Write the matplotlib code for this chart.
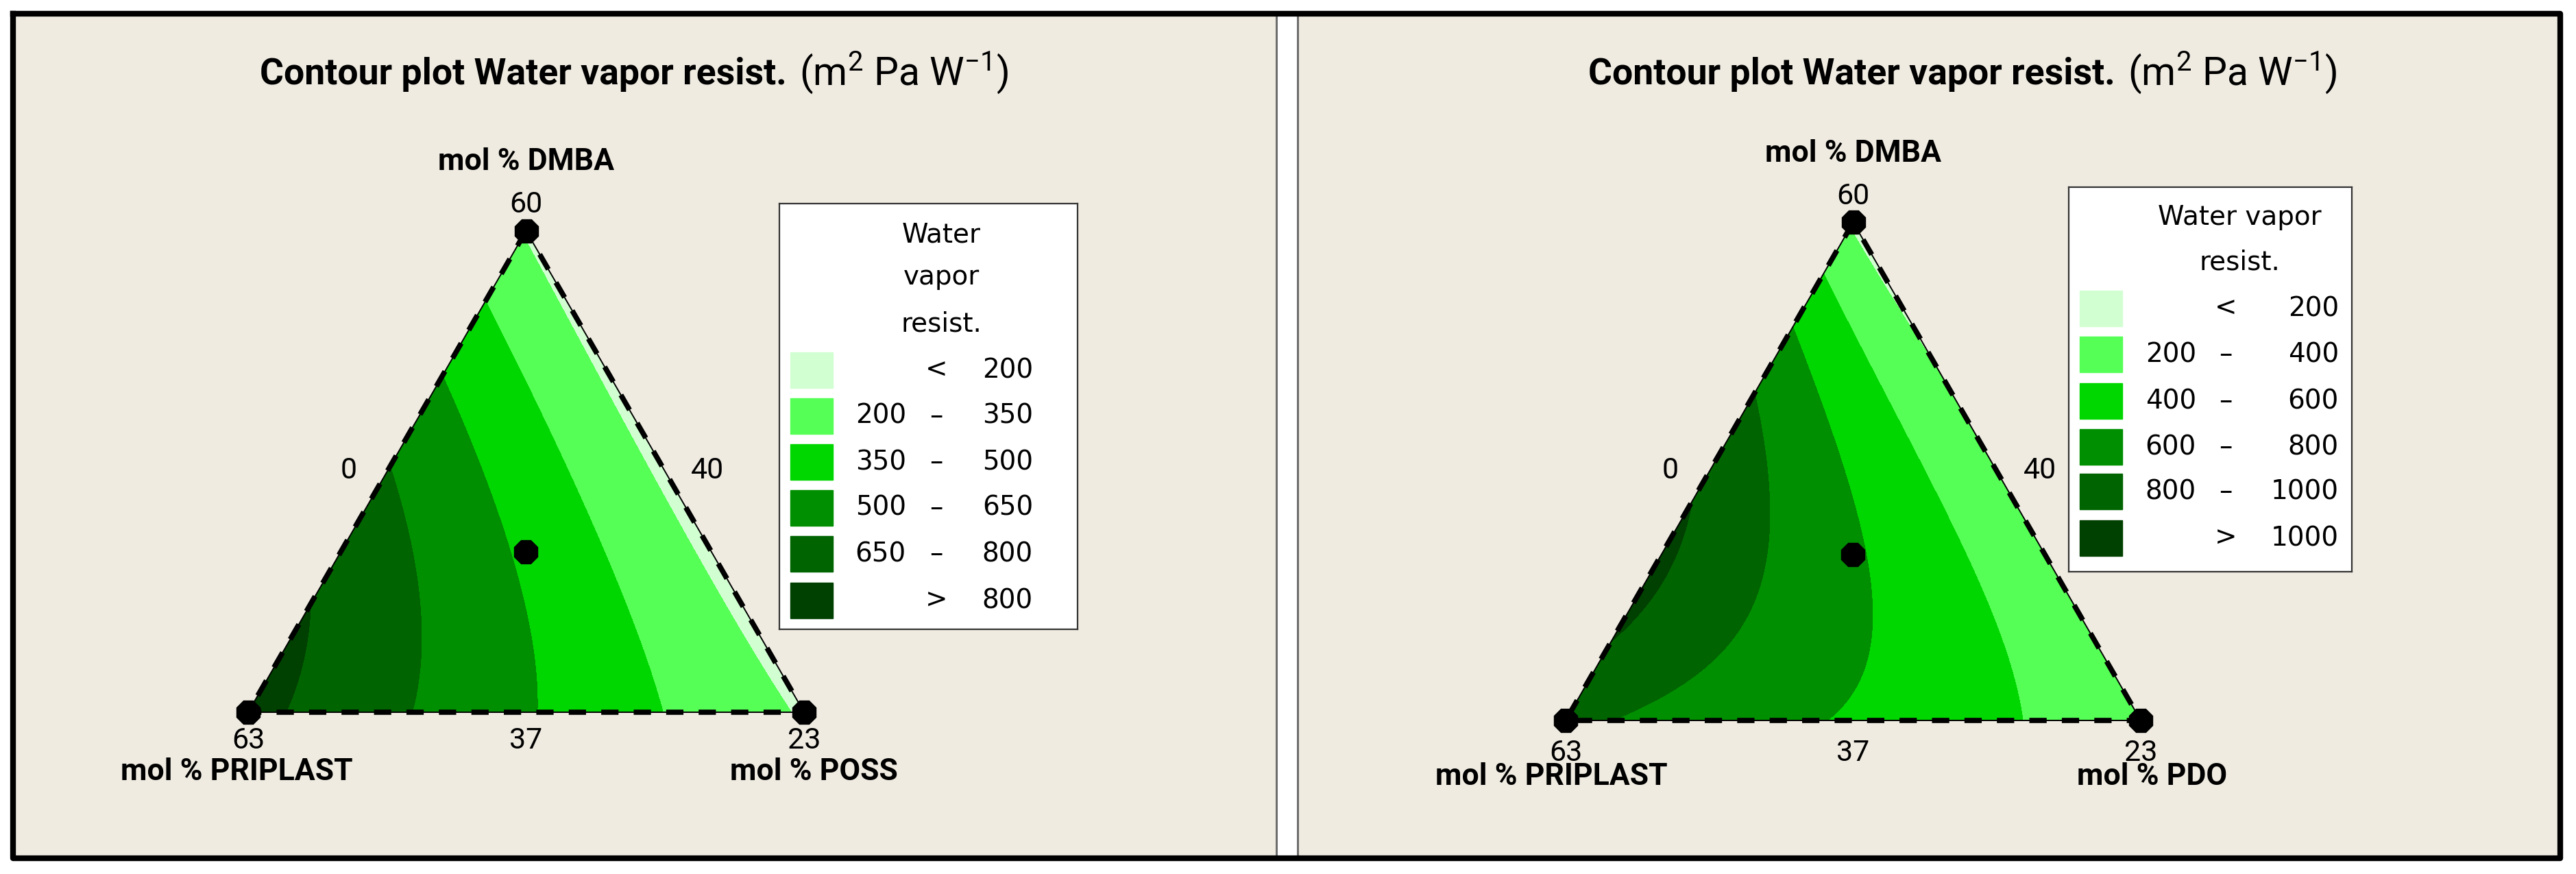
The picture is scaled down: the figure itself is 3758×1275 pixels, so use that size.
import numpy as np
import matplotlib
matplotlib.use("Agg")
import matplotlib.pyplot as plt
import matplotlib.tri as mtri
from matplotlib.patches import Rectangle

W_PX, H_PX = 3758, 1275

# contour band colours, low -> high
band_colors = ["#D2FFD2", "#55FF55", "#00D700", "#008F00", "#006400", "#004000"]

# ---- left map: DMBA / PRIPLAST / POSS ----
levels_1 = [200, 350, 500, 650, 800]
# points (mixture fractions) and the response there
dmba_1 = [1.0, 0.0, 0.0, 0.333, 0.667, 0.0, 0.0, 0.333, 0.667, 0.333,
          0.768, 0.556, 0.373, 0.168, 0.641, 0.451, 0.239, 0.451, 0.239, 0.133, 0.133, 0.486]
priplast_1 = [0.0, 1.0, 0.0, 0.667, 0.333, 0.667, 0.333, 0.0, 0.0, 0.333,
              0.155, 0.174, 0.191, 0.226, 0.300, 0.334, 0.390, 0.493, 0.575, 0.625, 0.827, 0.023]
poss_1 = [0.0, 0.0, 1.0, 0.0, 0.0, 0.333, 0.667, 0.667, 0.333, 0.333,
          0.077, 0.270, 0.436, 0.606, 0.059, 0.215, 0.371, 0.056, 0.186, 0.242, 0.040, 0.491]
resist_1 = [190, 845, 185, 749, 522, 624, 407, 175, 175, 485,
            350, 350, 350, 350, 500, 500, 500, 650, 650, 650, 800, 200]

# ---- right map: DMBA / PRIPLAST / PDO ----
levels_2 = [200, 400, 600, 800, 1000]
dmba_2 = [1.0, 0.0, 0.0, 0.333, 0.667, 0.0, 0.0, 0.333, 0.667, 0.333,
          0.807, 0.611, 0.401, 0.205, 0.639, 0.436, 0.275, 0.156, 0.050,
          0.576, 0.366, 0.240, 0.107, 0.029, 0.770]
priplast_2 = [0.0, 1.0, 0.0, 0.667, 0.333, 0.667, 0.333, 0.0, 0.0, 0.333,
              0.111, 0.120, 0.128, 0.144, 0.229, 0.282, 0.335, 0.394, 0.495,
              0.366, 0.462, 0.547, 0.698, 0.854, 0.0]
pdo_2 = [0.0, 0.0, 1.0, 0.0, 0.0, 0.333, 0.667, 0.667, 0.333, 0.333,
         0.082, 0.269, 0.471, 0.651, 0.132, 0.282, 0.390, 0.450, 0.455,
         0.058, 0.172, 0.213, 0.195, 0.117, 0.230]
resist_2 = [175, 860, 205, 1035, 780, 665, 490, 230, 195, 615,
            400, 400, 400, 400, 600, 600, 600, 600, 600,
            800, 800, 800, 800, 800, 200]

# vertex / edge labels (component ranges shown by the software)
top_label = "mol % DMBA"
left_label = "mol % PRIPLAST"
right_labels = ["mol % POSS", "mol % PDO"]
vertex_ticks = ["60", "63", "23"]
edge_ticks = ["0", "40", "37"]
title_main = "Contour plot Water vapor resist."
title_unit = r"(m$^{2}$ Pa W$^{-1}$)"
legend_titles = [["Water", "vapor", "resist."], ["Water vapor", "resist."]]

plt.rcParams["mathtext.fontset"] = "custom"
plt.rcParams["mathtext.rm"] = "Roboto"
plt.rcParams["mathtext.it"] = "Roboto:italic"
plt.rcParams["mathtext.bf"] = "Roboto:bold"


def fx(px):
    return px / W_PX


def fy(py):
    return 1 - py / H_PX


def terms(a, b, c):
    return np.column_stack([a, b, c, a * b, a * c, b * c,
                            a * b * (a - b), a * c * (a - c), b * c * (b - c), a * b * c])


def to_xy(a, c):
    # DMBA at the top, PRIPLAST bottom left, third component bottom right
    return c + a / 2, a * np.sqrt(3) / 2


def ternary_panel(fig, tri_px, dmba, priplast, third, resist, levels):
    x0, yb, w = tri_px
    h = w * np.sqrt(3) / 2
    ax = fig.add_axes([fx(x0), fy(yb), w / W_PX, h / H_PX])
    ax.set_xlim(0, 1)
    ax.set_ylim(0, np.sqrt(3) / 2)
    ax.axis("off")

    a = np.array(dmba)
    b = np.array(priplast)
    c = np.array(third)
    coef, *_ = np.linalg.lstsq(terms(a, b, c), np.array(resist, float), rcond=None)

    n = 160
    ga, gc = [], []
    for i in range(n + 1):
        for j in range(n + 1 - i):
            ga.append(i / n)
            gc.append(j / n)
    ga = np.array(ga)
    gc = np.array(gc)
    gb = 1 - ga - gc
    z = terms(ga, gb, gc) @ coef
    gx, gy = to_xy(ga, gc)
    triang = mtri.Triangulation(gx, gy)
    ax.tricontourf(triang, z, levels=[-1e5] + levels + [1e5], colors=band_colors)

    # triangle outline
    ca = np.array([1, 0, 0, 1])
    cc = np.array([0, 0, 1, 0])
    vx, vy = to_xy(ca, cc)
    ax.plot(vx, vy, color="black", lw=1.4, clip_on=False)
    ax.plot(vx, vy, color="black", lw=5.5, ls=(0, (3.3, 2.9)),
            dash_capstyle="butt", clip_on=False)
    ax.plot(vx[:3], vy[:3], ls="none", marker="8", ms=27, color="black", clip_on=False)
    mx, my = to_xy(np.array([a[9]]), np.array([c[9]]))
    ax.plot(mx, my, ls="none", marker="8", ms=27, color="black", clip_on=False)
    return ax


def legend_box(fig, box, levels, title_lines, title_y, title_cx, row_y, cols):
    x0, y0, w, h = box
    lax = fig.add_axes([fx(x0), fy(y0 + h), w / W_PX, h / H_PX])
    lax.set_xlim(0, w)
    lax.set_ylim(h, 0)
    lax.set_xticks([])
    lax.set_yticks([])
    lax.set_facecolor("white")
    for s in lax.spines.values():
        s.set_linewidth(1.6)
        s.set_color("#333333")
    for line, ty in zip(title_lines, title_y):
        lax.text(title_cx, ty, line, ha="center", va="center", fontsize=28,
                 family="DejaVu Sans")
    c1, cd, c2 = cols
    labels = [("", "<", str(levels[0]))]
    for lo, hi in zip(levels[:-1], levels[1:]):
        labels.append((str(lo), "\u2013", str(hi)))
    labels.append(("", ">", str(levels[-1])))
    for k, (col, ry) in enumerate(zip(band_colors, row_y)):
        lax.add_patch(Rectangle((16, ry - 26), 62, 52, color=col))
        left, mid, right = labels[k]
        lax.text(c1, ry, left, ha="right", va="center", fontsize=28, family="DejaVu Sans")
        lax.text(cd, ry, mid, ha="center", va="center", fontsize=28, family="DejaVu Sans")
        lax.text(c2, ry, right, ha="right", va="center", fontsize=28, family="DejaVu Sans")


fig = plt.figure(figsize=(W_PX / 100, H_PX / 100), dpi=100)
fig.patch.set_facecolor("white")

# panel backgrounds and frame
bg = "#EFEBE1"
fig.patches.append(Rectangle((fx(23), fy(1247)), fx(1860 - 23), (1247 - 23) / H_PX,
                             transform=fig.transFigure, color=bg, zorder=-5))
fig.patches.append(Rectangle((fx(1894), fy(1247)), fx(3730 - 1894), (1247 - 23) / H_PX,
                             transform=fig.transFigure, color=bg, zorder=-5))
for xl in (1861.5, 1892.5):
    fig.add_artist(plt.Line2D([fx(xl), fx(xl)], [fy(20), fy(1250)], transform=fig.transFigure,
                              color="#6E6E6E", lw=2.2))
fig.add_artist(plt.Line2D([fx(19), fx(3735), fx(3735), fx(19), fx(19)],
                          [fy(20), fy(20), fy(1252), fy(1252), fy(20)],
                          transform=fig.transFigure, color="black", lw=6))

panels = [
    dict(tri=(362, 1039, 811), data=(dmba_1, priplast_1, poss_1, resist_1), levels=levels_1,
         right=right_labels[0], top_y=236, tick60_y=299, edge_y=687, edge_x=(509, 1032),
         base_y=1080, name_y=1126, name_x=(345, 1187), title_x=1148, title_y=108,
         legend=(1137, 297, 435, 621), ltitle=legend_titles[0], ltitle_y=[45, 107, 176],
         lcx=236, rows=[243, 310, 377, 444, 511, 579], cols=(185, 229, 370)),
    dict(tri=(2284, 1051, 839), data=(dmba_2, priplast_2, pdo_2, resist_2), levels=levels_2,
         right=right_labels[1], top_y=224, tick60_y=286, edge_y=687, edge_x=(2437, 2976),
         base_y=1098, name_y=1133, name_x=(2263, 3140), title_x=3086, title_y=108,
         legend=(3018, 273, 413, 561), ltitle=legend_titles[1], ltitle_y=[44, 109],
         lcx=249, rows=[177, 244, 312, 379, 444, 512], cols=(186, 229, 394)),
]

for p in panels:
    x0, yb, w = p["tri"]
    ternary_panel(fig, p["tri"], *p["data"], p["levels"])
    xm = x0 + w / 2
    fig.text(fx(p["title_x"]), fy(p["title_y"]), title_main, ha="right", va="center",
             fontsize=38.5, fontweight="bold", family="Roboto")
    fig.text(fx(p["title_x"] + 18), fy(p["title_y"] - 2), title_unit, ha="left", va="center",
             fontsize=41, family="Roboto")
    fig.text(fx(xm), fy(p["top_y"]), top_label, ha="center", va="center",
             fontsize=32, fontweight="bold", family="Roboto")
    fig.text(fx(xm), fy(p["tick60_y"]), vertex_ticks[0], ha="center", va="center",
             fontsize=31, family="Roboto")
    fig.text(fx(p["edge_x"][0]), fy(p["edge_y"]), edge_ticks[0], ha="center", va="center",
             fontsize=31, family="Roboto")
    fig.text(fx(p["edge_x"][1]), fy(p["edge_y"]), edge_ticks[1], ha="center", va="center",
             fontsize=31, family="Roboto")
    fig.text(fx(x0), fy(p["base_y"]), vertex_ticks[1], ha="center", va="center",
             fontsize=31, family="Roboto")
    fig.text(fx(xm), fy(p["base_y"]), edge_ticks[2], ha="center", va="center",
             fontsize=31, family="Roboto")
    fig.text(fx(x0 + w), fy(p["base_y"]), vertex_ticks[2], ha="center", va="center",
             fontsize=31, family="Roboto")
    fig.text(fx(p["name_x"][0]), fy(p["name_y"]), left_label, ha="center", va="center",
             fontsize=32, fontweight="bold", family="Roboto")
    fig.text(fx(p["name_x"][1]), fy(p["name_y"]), p["right"], ha="center", va="center",
             fontsize=32, fontweight="bold", family="Roboto")
    legend_box(fig, p["legend"], p["levels"], p["ltitle"], p["ltitle_y"], p["lcx"],
               p["rows"], p["cols"])

fig.savefig("out.png", dpi=100, facecolor=fig.get_facecolor())
